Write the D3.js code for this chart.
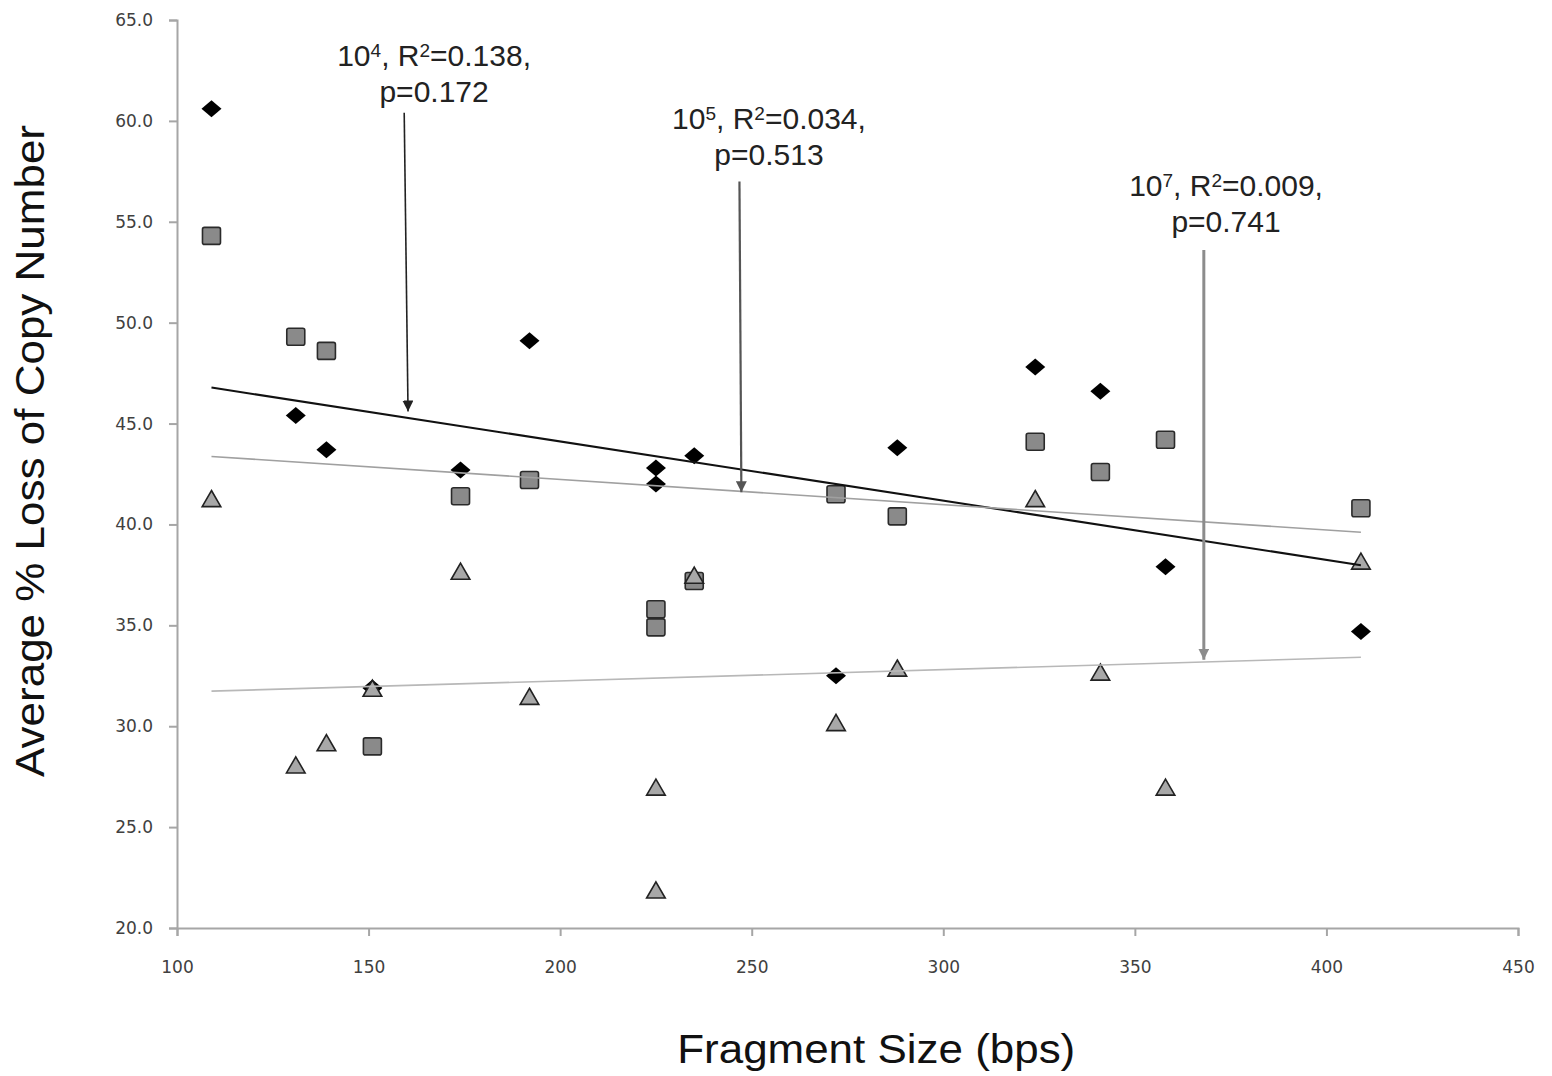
<!DOCTYPE html>
<html>
<head>
<meta charset="utf-8">
<script src="https://cdn.jsdelivr.net/npm/d3@7"></script>
<style>
  body { margin: 0; background: #fff; }
  svg { display: block; }
</style>
</head>
<body>
<figure style="margin:0"></figure>
<script>
// fragment sizes (bps), same for all three series
const fragSize = [109, 131, 139, 151, 174, 192, 225, 225, 235, 272, 288, 324, 341, 358, 409];
// average % loss of copy number
const loss1e4 = [60.6, 45.4, 43.7, 31.9, 42.7, 49.1, 42.8, 42.0, 43.4, 32.5, 43.8, 47.8, 46.6, 37.9, 34.7];
const loss1e5 = [54.3, 49.3, 48.6, 29.0, 41.4, 42.2, 35.8, 34.9, 37.2, 41.5, 40.4, 44.1, 42.6, 44.2, 40.8];
const loss1e7 = [41.2, 28.0, 29.1, 31.8, 37.6, 31.4, 26.9, 21.8, 37.4, 30.1, 32.8, 41.2, 32.6, 26.9, 38.1];

const exponents = ['4', '5', '7'];
const rSquared = ['0.138', '0.034', '0.009'];
const pValues = ['0.172', '0.513', '0.741'];

const xTicks = [100, 150, 200, 250, 300, 350, 400, 450];
const yTicks = [20, 25, 30, 35, 40, 45, 50, 55, 60, 65];

(() => {
  const totalWidth = 1552;
  const totalHeight = 1076;
  const margin = {top: 20, right: 34, bottom: 148, left: 177};
  const graphWidth = totalWidth - margin.left - margin.right;
  const graphHeight = totalHeight - margin.top - margin.bottom;

  const svg = d3.select('figure').append('svg')
    .attr('width', totalWidth)
    .attr('height', totalHeight);

  const g = svg.append('g')
    .attr('transform', `translate(${margin.left}, ${margin.top})`);

  const x = d3.scaleLinear().domain([100, 450]).range([0, graphWidth]);
  const y = d3.scaleLinear().domain([20, 65]).range([graphHeight, 0]);

  // axes
  const xAxis = d3.axisBottom(x).tickValues(xTicks).tickFormat(d3.format('d'))
    .tickSizeOuter(0).tickSize(8).tickPadding(25);
  const yAxis = d3.axisLeft(y).tickValues(yTicks).tickFormat(d3.format('.1f'))
    .tickSizeOuter(0).tickSize(8).tickPadding(16);

  const xGroup = g.append('g')
    .attr('transform', `translate(0, ${graphHeight})`)
    .call(xAxis);
  const yGroup = g.append('g').call(yAxis);

  [xGroup, yGroup].forEach((ax) => {
    ax.select('.domain').attr('stroke', '#a6a6a6').attr('stroke-width', 2);
    ax.selectAll('.tick line').attr('stroke', '#a6a6a6').attr('stroke-width', 2);
    ax.selectAll('.tick text')
      .attr('fill', '#404040')
      .style('font-family', '"DejaVu Sans", Verdana, sans-serif')
      .style('font-size', '17px');
  });

  const series = [
    {values: loss1e4, kind: 'diamond', line: '#111', lineWidth: 2},
    {values: loss1e5, kind: 'square', line: '#a0a0a0', lineWidth: 1.6},
    {values: loss1e7, kind: 'triangle', line: '#b8b8b8', lineWidth: 1.6}
  ];

  const diamond = 'M0,-8.5L10,0L0,8.5L-10,0Z';
  const triangle = d3.symbol().type(d3.symbolTriangle).size(150)();

  series.forEach((s) => {
    const pts = fragSize.map((f, i) => ({f, v: s.values[i]}));
    const mg = g.append('g');
    if (s.kind === 'diamond') {
      mg.selectAll('path').data(pts).join('path')
        .attr('d', diamond)
        .attr('transform', (d) => `translate(${x(d.f)},${y(d.v)})`)
        .attr('fill', '#000');
    } else if (s.kind === 'square') {
      mg.selectAll('rect').data(pts).join('rect')
        .attr('x', (d) => x(d.f) - 9)
        .attr('y', (d) => y(d.v) - 8.5)
        .attr('width', 18)
        .attr('height', 17)
        .attr('rx', 2)
        .attr('fill', '#8a8a8a')
        .attr('stroke', '#2a2a2a')
        .attr('stroke-width', 1.6);
    } else {
      mg.selectAll('path').data(pts).join('path')
        .attr('d', triangle)
        .attr('transform', (d) => `translate(${x(d.f)},${y(d.v) + 1})`)
        .attr('fill', '#a8a8a8')
        .attr('stroke', '#222')
        .attr('stroke-width', 1.6);
    }
  });

  // linear trendlines, least squares over each series
  series.forEach((s) => {
    const mx = d3.mean(fragSize);
    const my = d3.mean(s.values);
    let sxy = 0, sxx = 0;
    fragSize.forEach((f, i) => {
      sxy += (f - mx) * (s.values[i] - my);
      sxx += (f - mx) * (f - mx);
    });
    const slope = sxy / sxx;
    const ends = d3.extent(fragSize).map((f) => [f, my + slope * (f - mx)]);
    g.append('path')
      .datum(ends)
      .attr('d', d3.line().x((d) => x(d[0])).y((d) => y(d[1])))
      .attr('fill', 'none')
      .attr('stroke', s.line)
      .attr('stroke-width', s.lineWidth);
  });

  // annotation arrows + labels (positions in data units)
  const notes = [
    {tx: 167.1, ty: 62.7, ax0: 159.3, ay0: 60.4, ax1: 160.3, ay1: 45.6, col: '#222', w: 1.6},
    {tx: 254.5, ty: 59.6, ax0: 246.8, ay0: 57.0, ax1: 247.3, ay1: 41.6, col: '#555', w: 2.2},
    {tx: 373.8, ty: 56.3, ax0: 368.0, ay0: 53.6, ax1: 368.0, ay1: 33.3, col: '#8c8c8c', w: 3}
  ];

  const defs = svg.append('defs');
  notes.forEach((n, i) => {
    defs.append('marker')
      .attr('id', `head${i}`)
      .attr('viewBox', '0 0 10 10')
      .attr('refX', 10).attr('refY', 5)
      .attr('markerUnits', 'userSpaceOnUse')
      .attr('markerWidth', 11).attr('markerHeight', 11)
      .attr('orient', 'auto')
      .append('path')
      .attr('d', 'M0,0L10,5L0,10Z')
      .attr('fill', n.col);

    g.append('line')
      .attr('x1', x(n.ax0)).attr('y1', y(n.ay0))
      .attr('x2', x(n.ax1)).attr('y2', y(n.ay1))
      .attr('stroke', n.col)
      .attr('stroke-width', n.w)
      .attr('marker-end', `url(#head${i})`);

    const t = g.append('text')
      .attr('x', x(n.tx)).attr('y', y(n.ty))
      .attr('text-anchor', 'middle')
      .attr('fill', '#222')
      .style('font-family', '"Liberation Sans", Arial, sans-serif')
      .style('font-size', '30px');
    t.append('tspan').text('10');
    t.append('tspan').attr('dy', -9).style('font-size', '19px').text(exponents[i]);
    t.append('tspan').attr('dy', 9).text(', R');
    t.append('tspan').attr('dy', -9).style('font-size', '19px').text('2');
    t.append('tspan').attr('dy', 9).text(`=${rSquared[i]},`);
    t.append('tspan').attr('x', x(n.tx)).attr('dy', 36).text(`p=${pValues[i]}`);
  });

  // axis titles
  svg.append('text')
    .attr('x', margin.left + x(282.5))
    .attr('y', 1063)
    .attr('text-anchor', 'middle')
    .attr('fill', '#111')
    .style('font-family', '"Liberation Sans", Arial, sans-serif')
    .style('font-size', '40px')
    .attr('textLength', 398)
    .attr('lengthAdjust', 'spacingAndGlyphs')
    .text('Fragment Size (bps)');

  svg.append('text')
    .attr('transform', 'translate(44, 451) rotate(-90)')
    .attr('text-anchor', 'middle')
    .attr('fill', '#111')
    .style('font-family', '"Liberation Sans", Arial, sans-serif')
    .style('font-size', '40px')
    .attr('textLength', 652)
    .attr('lengthAdjust', 'spacingAndGlyphs')
    .text('Average % Loss of Copy Number');
})();
</script>
</body>
</html>
